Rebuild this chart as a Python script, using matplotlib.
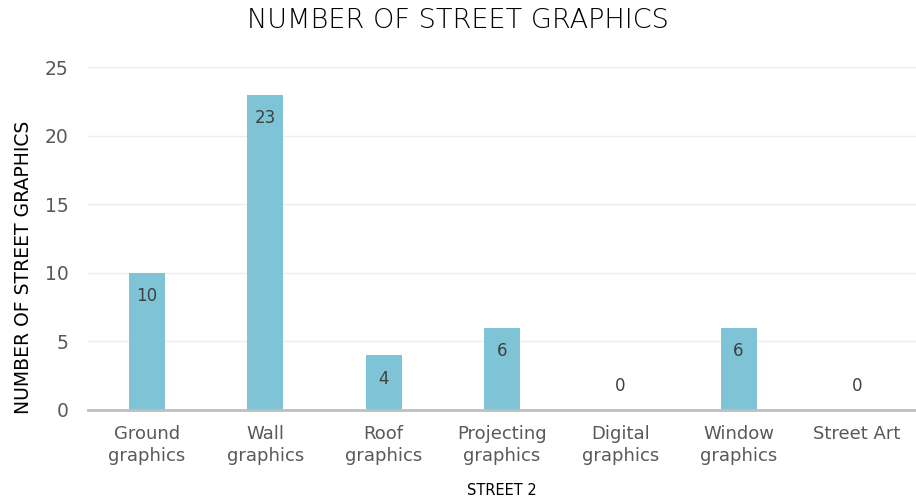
import matplotlib
matplotlib.use("Agg")
import matplotlib.pyplot as plt

# Données du graphique
categories = ["Ground\ngraphics", "Wall\ngraphics", "Roof\ngraphics", "Projecting\ngraphics",
              "Digital\ngraphics", "Window\ngraphics", "Street Art"]
valeurs = [10, 23, 4, 6, 0, 6, 0]

couleurBarre = "#7FC4D6"

fig = plt.figure(figsize=(9.16, 5.01), dpi=100)
ax = fig.add_axes([0.096, 0.182, 0.904, 0.684])

x = range(len(categories))
ax.bar(x, valeurs, width=0.305, color=couleurBarre, zorder=2)

ax.set_xlim(-0.5, len(categories) - 0.5)
ax.set_ylim(0, 25)
ax.set_yticks([0, 5, 10, 15, 20, 25])
ax.set_xticks(list(x))
ax.set_xticklabels(categories, color="#595959", fontsize=13, linespacing=1.3)
ax.tick_params(axis="y", colors="#595959", labelsize=13.5, length=0, pad=14)
ax.tick_params(axis="x", length=0, pad=11)

# Grille horizontale claire
ax.grid(axis="y", color="#EDEDED", linewidth=1, zorder=0)
for cote in ["top", "right", "left"]:
    ax.spines[cote].set_visible(False)
ax.spines["bottom"].set_color("#BFBFBF")
ax.spines["bottom"].set_linewidth(2)
ax.spines["bottom"].set_zorder(3)

# Étiquettes de valeurs (à l'intérieur, en haut ; au-dessus pour les zéros)
for i, v in enumerate(valeurs):
    decalage = -17 if v > 0 else 17
    ax.annotate(str(v), (i, v), xytext=(0, decalage), textcoords="offset points",
                ha="center", va="center", fontsize=12, color="#404040")

ax.set_ylabel("NUMBER OF STREET GRAPHICS", fontsize=13.5, color="black")
ax.yaxis.set_label_coords(-0.066, 0.415)
ax.set_xlabel("STREET 2", fontsize=10.5, color="black")
ax.xaxis.set_label_coords(0.5, -0.215)
fig.suptitle("NUMBER OF STREET GRAPHICS", fontsize=19.5, color="black", y=0.985,
             fontweight="light")

fig.savefig("out.png", dpi=100)
